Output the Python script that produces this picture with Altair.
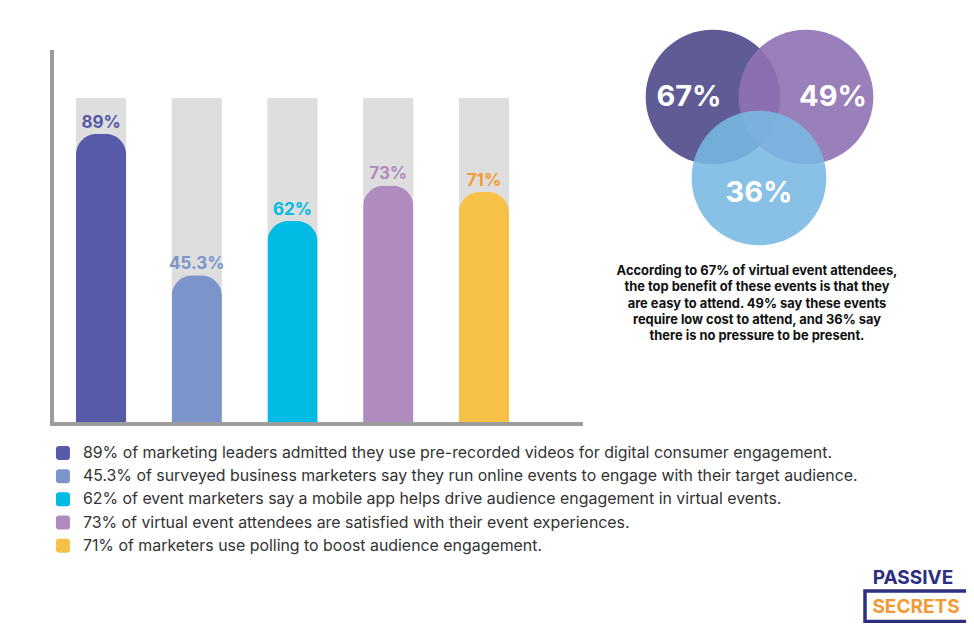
import altair as alt
import pandas as pd
import math

# ---------------- data ----------------
categories = [
    "89% of marketing leaders admitted they use pre-recorded videos for digital consumer engagement.",
    "45.3% of surveyed business marketers say they run online events to engage with their target audience.",
    "62% of event marketers say a mobile app helps drive audience engagement in virtual events.",
    "73% of virtual event attendees are satisfied with their event experiences.",
    "71% of marketers use polling to boost audience engagement.",
]
values = [89, 45.3, 62, 73, 71]
value_labels = ["89%", "45.3%", "62%", "73%", "71%"]

venn_labels = ["67%", "49%", "36%"]

caption_lines = [
    "According to 67% of virtual event attendees,",
    "the top benefit of these events is that they",
    "are easy to attend. 49% say these events",
    "require low cost to attend, and 36% say",
    "there is no pressure to be present.",
]

logo_top = "PASSIVE"
logo_bottom = "SECRETS"

# ---------------- styles / layout ----------------
bar_colors = ["#575aa9", "#7b95cb", "#00bbe3", "#b08bbd", "#f7c148"]
label_colors = ["#5659a8", "#7b95cb", "#00bbe3", "#b08bbd", "#f39c33"]
venn_colors = ["#5f5b95", "#8f72b4", "#79b8e3"]
venn_opacity = [1.0, 0.9, 0.88]
venn_pos = [(705, 89), (798, 89), (751, 170)]
venn_text_pos = [(681, 89), (825, 89), (751, 185)]
VENN_R = 76

W, H = 958, 615
FONT = "Inter"

df = pd.DataFrame({
    "cat": categories,
    "value": values,
    "label": value_labels,
    "full": [100] * len(categories),
})

xscale = alt.Scale(type="band", domain=categories, range=[68, 501],
                   paddingInner=0.476, paddingOuter=0)
yscale = alt.Scale(domain=[0, 100], range=[414, 90], nice=False, zero=True)

x_enc = alt.X("cat:N", scale=xscale, axis=None, sort=None)

bg = alt.Chart(df).mark_bar(color="#dedede").encode(
    x=x_enc,
    y=alt.Y("full:Q", scale=yscale, axis=None),
)

rounded = ("M-0.55,-1L0.55,-1Q1,-1,1,-0.55L1,0.55Q1,1,0.55,1L-0.55,1"
           "Q-1,1,-1,0.55L-1,-0.55Q-1,-1,-0.55,-1Z")

bars = alt.Chart(df).mark_bar(cornerRadiusTopLeft=21, cornerRadiusTopRight=21).encode(
    x=x_enc,
    y=alt.Y("value:Q", scale=yscale, axis=None),
    color=alt.Color(
        "cat:N",
        scale=alt.Scale(domain=categories, range=bar_colors),
        sort=None,
        legend=alt.Legend(
            orient="none", legendX=47, legendY=437, title=None,
            direction="vertical", symbolType=rounded, symbolSize=196,
            symbolStrokeWidth=0, symbolOpacity=1,
            labelFont=FONT, labelFontSize=15.9, labelColor="#333333",
            labelLimit=1000, labelOffset=12, rowPadding=6.2, padding=0,
        ),
    ),
)

labels = alt.Chart(df).mark_text(
    font=FONT, fontSize=17, fontWeight="bold", baseline="alphabetic", dy=-6
).encode(
    x=alt.X("cat:N", scale=xscale, axis=None, sort=None, bandPosition=0.5),
    y=alt.Y("value:Q", scale=yscale, axis=None),
    text="label:N",
    color=alt.Color("cat:N", scale=alt.Scale(domain=categories, range=label_colors), legend=None),
)

axis_color = "#9b9b9b"
axis_v = alt.Chart(df).mark_rule(color=axis_color, strokeWidth=3).encode(
    x=alt.value(44), y=alt.value(42), y2=alt.value(417.5)
)
axis_h = alt.Chart(df).mark_rule(color=axis_color, strokeWidth=3).encode(
    x=alt.value(42.5), x2=alt.value(575), y=alt.value(416)
)

layers = [bg, bars, labels, axis_v, axis_h]

# Venn diagram
for i, lab in enumerate(venn_labels):
    d = pd.DataFrame({"label": [lab]})
    cx, cy = venn_pos[i]
    layers.append(
        alt.Chart(d).mark_circle(
            size=math.pi * VENN_R ** 2, color=venn_colors[i], opacity=venn_opacity[i]
        ).encode(x=alt.value(cx), y=alt.value(cy))
    )
for i, lab in enumerate(venn_labels):
    d = pd.DataFrame({"label": [lab]})
    tx, ty = venn_text_pos[i]
    layers.append(
        alt.Chart(d).mark_text(
            font=FONT, fontSize=29, fontWeight="bold", color="white", baseline="middle"
        ).encode(x=alt.value(tx), y=alt.value(ty), text="label:N")
    )

cap = pd.DataFrame({"text": ["\n".join(caption_lines)]})
layers.append(
    alt.Chart(cap).mark_text(
        font=FONT, fontSize=12.9, fontWeight="bold", color="#111111",
        lineBreak="\n", lineHeight=16.3, align="center", baseline="top"
    ).encode(x=alt.value(749), y=alt.value(257), text="text:N")
)

# Logo
logo = pd.DataFrame({"t": [logo_top], "b": [logo_bottom]})
layers.append(
    alt.Chart(logo).mark_rect(fill="white", stroke="#2d2f7e", strokeWidth=3.5).encode(
        x=alt.value(857), x2=alt.value(960), y=alt.value(583), y2=alt.value(613.5)
    )
)
layers.append(
    alt.Chart(logo).mark_text(font=FONT, fontSize=19, fontWeight="bold", color="#2d2f7e",
                              baseline="middle").encode(
        x=alt.value(905), y=alt.value(570), text="t:N")
)
layers.append(
    alt.Chart(logo).mark_text(font=FONT, fontSize=19, fontWeight="bold", color="#f39a36",
                              baseline="middle").encode(
        x=alt.value(908), y=alt.value(598.5), text="b:N")
)

chart = alt.layer(*layers).resolve_scale(
    x="independent", y="independent", color="independent"
).properties(
    width=W, height=H, autosize=alt.AutoSizeParams(type="none"), padding=0,
    background="white",
).configure_view(stroke=None)

chart.save("out.html", embed_options={"renderer": "svg", "actions": False})
